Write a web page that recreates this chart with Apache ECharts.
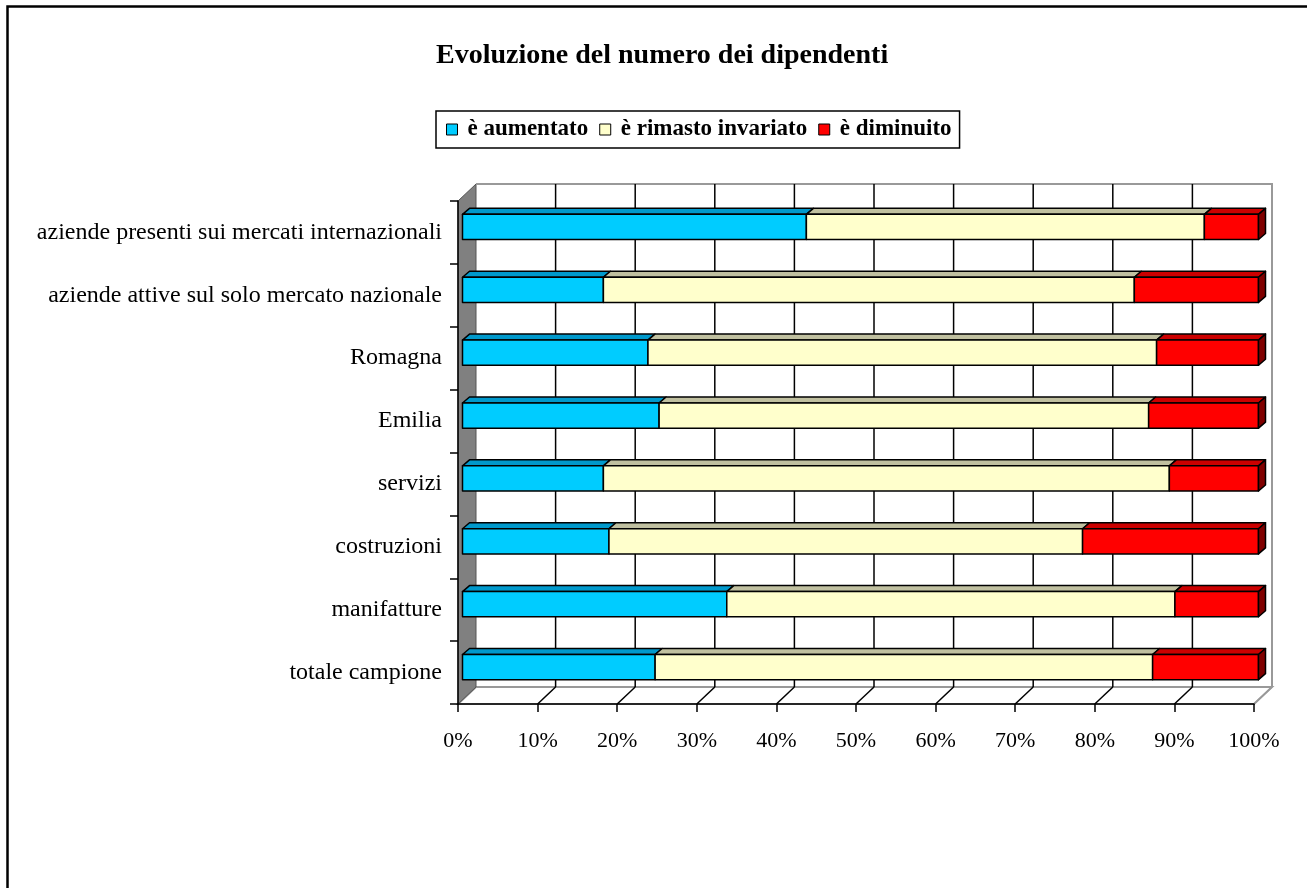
<!DOCTYPE html>
<html>
<head>
<meta charset="utf-8">
<script src="https://cdn.jsdelivr.net/npm/echarts@6/dist/echarts.min.js"></script>
<style>
  html, body { margin: 0; padding: 0; background: #fff; }
  #chart { width: 1307px; height: 888px; }
</style>
</head>
<body>
<div id="chart"></div>
<script>
// categories from top to bottom
const categories = [
  'aziende presenti sui mercati internazionali',
  'aziende attive sul solo mercato nazionale',
  'Romagna',
  'Emilia',
  'servizi',
  'costruzioni',
  'manifatture',
  'totale campione'
]
const seriesNames = ['è aumentato', 'è rimasto invariato', 'è diminuito']
const aumentato = [43.2, 17.7, 23.3, 24.7, 17.7, 18.4, 33.2, 24.2]
const invariato = [50.0, 66.7, 63.9, 61.5, 71.1, 59.5, 56.3, 62.5]
const diminuito = [6.8, 15.6, 12.8, 13.8, 11.2, 22.1, 10.5, 13.3]
const xTicks = [0, 10, 20, 30, 40, 50, 60, 70, 80, 90, 100]

const FONT = '"Liberation Serif", "Times New Roman", serif'
// 3d look: front colour, top face, side face
const faces = [
  { front: '#00CCFF', top: '#0099CC', side: '#006699' },
  { front: '#FFFFCC', top: '#C0C0A0', side: '#999977' },
  { front: '#FF0000', top: '#CC0000', side: '#800000' }
]
const WALL_DX = 18
const WALL_DY = -17
const BAR_DX = 4.5
const BAR_DY = -5.5
const DEPTH_X = 7
const DEPTH_Y = -6

// stack start / end for every series
const stacked = []
const cum = categories.map(() => 0)
;[aumentato, invariato, diminuito].forEach((vals, s) => {
  stacked.push(vals.map((v, i) => {
    const item = [i, cum[i], cum[i] + v]
    cum[i] += v
    return item
  }))
})

function barRender (s) {
  return function (params, api) {
    const cat = api.value(0)
    const p0 = api.coord([api.value(1), cat])
    const p1 = api.coord([api.value(2), cat])
    const h = api.size([0, 1])[1] * 0.4
    const x0 = p0[0] + BAR_DX
    const x1 = p1[0] + BAR_DX
    const top = p0[1] + BAR_DY - h / 2
    const line = { stroke: '#000', lineWidth: 1.5, lineJoin: 'round' }
    const children = [
      {
        type: 'polygon',
        shape: { points: [[x0, top], [x1, top], [x1 + DEPTH_X, top + DEPTH_Y], [x0 + DEPTH_X, top + DEPTH_Y]] },
        style: Object.assign({ fill: faces[s].top }, line)
      },
      {
        type: 'rect',
        shape: { x: x0, y: top, width: x1 - x0, height: h },
        style: Object.assign({ fill: faces[s].front }, line)
      }
    ]
    if (s === 2) {
      children.push({
        type: 'polygon',
        shape: { points: [[x1, top], [x1 + DEPTH_X, top + DEPTH_Y], [x1 + DEPTH_X, top + h + DEPTH_Y], [x1, top + h]] },
        style: Object.assign({ fill: faces[s].side }, line)
      })
    }
    return { type: 'group', children: children }
  }
}

// walls, floor and back gridlines
function wallRender (params, api) {
  const r = params.coordSys
  const x = r.x
  const y = r.y
  const w = r.width
  const h = r.height
  const bx = x + WALL_DX
  const by = y + WALL_DY
  const children = [
    { type: 'rect', shape: { x: bx, y: by, width: w, height: h }, style: { fill: '#fff' } },
    {
      type: 'polygon',
      shape: { points: [[x, y + h], [bx, by + h], [bx + w, by + h], [x + w, y + h]] },
      style: { fill: '#fff', stroke: '#999', lineWidth: 2 }
    },
    {
      type: 'polygon',
      shape: { points: [[x, y], [bx, by], [bx, by + h], [x, y + h]] },
      style: { fill: '#808080', stroke: '#555', lineWidth: 1 }
    },
    { type: 'polyline', shape: { points: [[bx, by], [bx + w, by], [bx + w, by + h]] }, style: { stroke: '#999', lineWidth: 2, fill: null } }
  ]
  xTicks.forEach(t => {
    if (t === 0) return
    const px = api.coord([t, 0])[0]
    const c = t === 100 ? '#999' : '#000'
    if (t !== 100) {
      children.push({ type: 'line', shape: { x1: px + WALL_DX, y1: by, x2: px + WALL_DX, y2: by + h }, style: { stroke: c, lineWidth: 1.5 } })
    }
    children.push({ type: 'line', shape: { x1: px, y1: y + h, x2: px + WALL_DX, y2: by + h }, style: { stroke: c, lineWidth: 1.5 } })
  })
  return { type: 'group', children: children }
}

const chart = echarts.init(document.getElementById('chart'))

const series = [{
  type: 'custom',
  name: 'walls',
  renderItem: wallRender,
  data: [[0, 0]],
  z: 1,
  silent: true
}]
seriesNames.forEach((name, s) => {
  series.push({
    type: 'custom',
    name: name,
    renderItem: barRender(s),
    encode: { x: [1, 2], y: 0 },
    data: stacked[s],
    itemStyle: { color: faces[s].front, borderColor: '#000', borderWidth: 1 },
    z: 3
  })
})

chart.setOption({
  backgroundColor: '#fff',
  animation: false,
  title: {
    text: 'Evoluzione del numero dei dipendenti',
    left: 436,
    top: 42,
    padding: 0,
    textStyle: { fontFamily: FONT, fontWeight: 'bold', fontSize: 28, color: '#000' }
  },
  legend: {
    data: seriesNames.map((n, s) => ({ name: n, itemStyle: { color: faces[s].front, borderColor: '#000', borderWidth: 1 } })),
    left: 436,
    top: 111,
    padding: [7, 8, 7, 10],
    itemWidth: 11,
    itemHeight: 11,
    itemGap: 11,
    icon: 'rect',
    borderColor: '#000',
    borderWidth: 1.5,
    selectedMode: false,
    textStyle: { fontFamily: FONT, fontWeight: 'bold', fontSize: 23, color: '#000', padding: [0, 0, 0, 5] }
  },
  graphic: [{
    type: 'rect',
    left: 5,
    top: 4,
    shape: { width: 1400, height: 1000 },
    style: { fill: null, stroke: '#000', lineWidth: 2.5 },
    silent: true
  }],
  grid: { left: 458, right: 53, top: 201, bottom: 184 },
  xAxis: {
    type: 'value',
    min: 0,
    max: 100,
    interval: 10,
    z: 5,
    axisLine: { show: true, lineStyle: { color: '#000', width: 1.5 } },
    axisTick: { show: true, length: 8, lineStyle: { color: '#000', width: 1.5 } },
    splitLine: { show: false },
    axisLabel: { formatter: '{value}%', margin: 26, fontFamily: FONT, fontSize: 22, color: '#000' }
  },
  yAxis: {
    type: 'category',
    data: categories,
    inverse: true,
    z: 5,
    axisLine: { show: true, lineStyle: { color: '#000', width: 1.5 } },
    axisTick: { show: true, length: 8, lineStyle: { color: '#000', width: 1.5 } },
    axisLabel: { margin: 16, fontFamily: FONT, fontSize: 24, color: '#000', padding: [6, 0, 0, 0] }
  },
  series: series
})
</script>
</body>
</html>
